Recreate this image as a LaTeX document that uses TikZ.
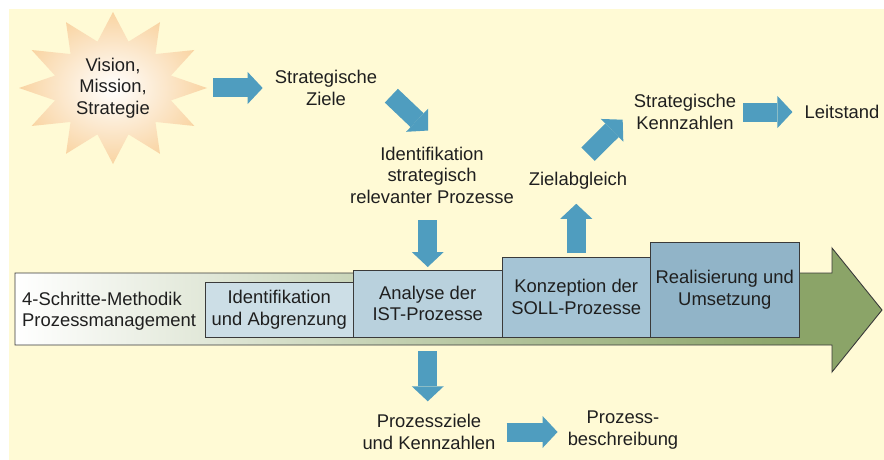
\documentclass[tikz,border=0pt]{standalone}
\usepackage{fontspec}
\setmainfont{Liberation Sans}
\usetikzlibrary{arrows.meta,positioning,calc}
\definecolor{bgyellow}{HTML}{FFFAD5}
\definecolor{staror}{HTML}{F9D4A2}
\definecolor{arrowblue}{HTML}{4F9DBF}
\definecolor{olive}{HTML}{8BA468}
\definecolor{stepa}{HTML}{CCDEE6}
\definecolor{stepb}{HTML}{B9D1DD}
\definecolor{stepc}{HTML}{A5C4D5}
\definecolor{stepd}{HTML}{91B4C8}
\definecolor{edgegray}{HTML}{3A3A3A}
\pgfdeclarehorizontalshading{greenfade}{100bp}{color(0bp)=(white); color(25bp)=(white);
  color(35.7bp)=(olive!25); color(52.4bp)=(olive!65); color(70bp)=(olive); color(100bp)=(olive)}
\tikzset{
  txt/.style={inner sep=0pt, align=center, font=\fontsize{18.4}{21.5}\selectfont, text=black!88},
  stepbox/.style={txt, draw=edgegray, line width=.9pt, outer sep=0pt, anchor=south west, minimum width=148.5pt},
  barrow/.style={-{Triangle[length=15pt,width=32pt,line width=0pt]}, draw=arrowblue, line width=19pt},
}

\begin{document}
\begin{tikzpicture}[x=1pt, y=-1pt]
        \useasboundingbox (0,0) rectangle (884,460);
        \fill[bgyellow] (9,9) rectangle (884,460);
        % star
        \coordinate (sc) at (113,88);
        \shade[inner color=white, outer color=staror] ($(sc)+(0:94 and 76)$)
          \foreach \a in {0,30,...,330}{ -- ($(sc)+(\a+15:60 and 48)$) -- ($(sc)+(\a+30:94 and 76)$) } -- cycle;
        % big arrow
        \shadedraw[shading=greenfade, draw=edgegray, line width=.9pt]
          (15,273) -- (832,273) -- (832,248) -- (882,310) -- (832,372) -- (832,345) -- (15,345) -- cycle;
        \node[txt, align=left, anchor=west] (met) at (22,311) {4-Schritte-Methodik\\Prozessmanagement};
        \node[stepbox, fill=stepa, minimum height=55pt] (ida) at (205,337) {Identifikation\\und Abgrenzung};
        \node[stepbox, fill=stepb, minimum height=67pt] (ana) at (ida.south east) {Analyse der\\IST-Prozesse};
        \node[stepbox, fill=stepc, minimum height=80pt] (kon) at (ana.south east) {Konzeption der\\SOLL-Prozesse};
        \node[stepbox, fill=stepd, minimum height=95pt] (rea) at (kon.south east) {Realisierung und\\Umsetzung};
        % texts
        \node[txt] (vis) at (113,88) {Vision,\\Mission,\\Strategie};
        \node[txt] (sz) at (326,88) {Strategische\\Ziele};
        \node[txt] (isp) at (432,175) {Identifikation\\strategisch\\relevanter Prozesse};
        \node[txt] (zab) at (578,181) {Zielabgleich};
        \node[txt] (skz) at (685,112) {Strategische\\Kennzahlen};
        \node[txt] (lst) at (842,112) {Leitstand};
        \node[txt] (pzk) at (429,432) {Prozessziele\\und Kennzahlen};
        \node[txt] (pbs) at (623,430) {Prozess-\\beschreibung};
        % arrows
        \draw[barrow] ($(vis.east)+(63,0)$) -- ($(sz.west)+(-12,0)$);
        \draw[barrow] ($(sz.south east)+(14,-10)$) -- ($(isp.north)+(-4,-16)$);
        \draw[barrow] ($(isp.south -| ana.north)+(0,17)$) -- ($(ana.north)+(0,-3)$);
        \draw[barrow] ($(ana.south)+(0,14)$) -- ($(ana.south |- pzk.north)+(0,-13)$);
        \draw[barrow] ($(pzk.east)+(11,0)$) -- ($(pzk.east -| pbs.west)+(-10,0)$);
        \draw[barrow] ($(kon.north)+(0,-4)$) -- ($(zab.south -| kon.north)+(0,14)$);
        \draw[barrow] ($(zab.north)+(10,-18)$) -- ($(skz.south west)+(-11,-10)$);
        \draw[barrow] ($(skz.east)+(7,0)$) -- ($(lst.west)+(-12,0)$);
      \end{tikzpicture}
\end{document}
